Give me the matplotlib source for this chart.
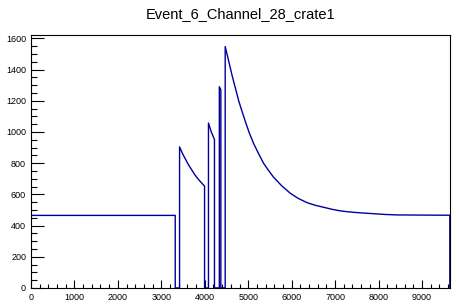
import matplotlib
matplotlib.use("Agg")
import matplotlib.pyplot as plt
from matplotlib.ticker import MultipleLocator

plt.rcParams['font.family'] = ['Liberation Sans', 'DejaVu Sans']

# waveform: each pulse starts/ends on zero
title = "Event_6_Channel_28_crate1"
x_max = 9640
y_max = 1624

baseline_x = [0, 3320]
baseline_y = [465, 465]

pulse1_x = [3420, 3490, 3558, 3630, 3708, 3780, 3857, 3930, 3995]
pulse1_y = [904, 860, 824, 787, 753, 722, 695, 672, 653]

pulse2_x = [4085, 4150, 4223]
pulse2_y = [1057, 1000, 951]

pulse3_x = [4335, 4370]
pulse3_y = [1290, 1270]

pulse4_x = [4470, 4555, 4630, 4707, 4780, 4862, 4940, 5016, 5122, 5240,
            5353, 5470, 5583, 5770, 5968, 6150, 6352, 6540, 6736, 6930,
            7120, 7300, 7504, 7700, 7888, 8150, 8426, 9000, 9640]
pulse4_y = [1547, 1449, 1360, 1278, 1200, 1128, 1062, 1000, 927, 860,
            799, 752, 710, 655, 607, 574, 547, 530, 517, 504,
            494, 488, 483, 479, 476, 471, 468, 467, 466]

segments = [(baseline_x, baseline_y), (pulse1_x, pulse1_y), (pulse2_x, pulse2_y),
            (pulse3_x, pulse3_y), (pulse4_x, pulse4_y)]

xs, ys = [], []
for sx, sy in segments:
  if xs:
    xs.append(sx[0]); ys.append(0)
  xs += list(sx); ys += list(sy)
  xs.append(sx[-1]); ys.append(0)

fig = plt.figure(figsize=(4.59, 3.06), dpi=100)
ax = fig.add_axes([0.0675, 0.059, 0.9125, 0.828])
ax.plot(xs, ys, color='#000099', lw=1.0)

ax.set_xlim(0, x_max)
ax.set_ylim(0, y_max)
ax.xaxis.set_major_locator(MultipleLocator(1000))
ax.xaxis.set_minor_locator(MultipleLocator(200))
ax.yaxis.set_major_locator(MultipleLocator(200))
ax.yaxis.set_minor_locator(MultipleLocator(50))
ax.tick_params(axis='x', which='major', direction='in', length=5.5, width=0.8, labelsize=6.5, pad=3.5)
ax.tick_params(axis='x', which='minor', direction='in', length=2.7, width=0.8)
ax.tick_params(axis='y', which='major', direction='in', length=9, width=0.8, labelsize=6.5, pad=3.5)
ax.tick_params(axis='y', which='minor', direction='in', length=4.5, width=0.8)
for s in ax.spines.values():
  s.set_linewidth(0.8)

fig.text(0.525, 0.955, title, ha='center', va='center', fontsize=10.5)

fig.savefig("out.png", dpi=100)
